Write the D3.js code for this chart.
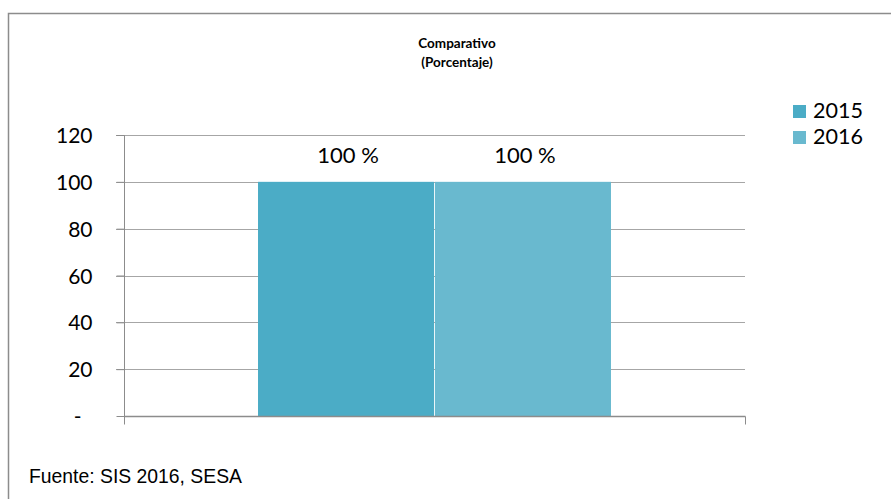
<!DOCTYPE html>
<html><head><meta charset="utf-8">
<script src="https://cdn.jsdelivr.net/npm/d3@7"></script>
<style>body{margin:0;background:#fff}svg{display:block}</style>
</head><body>
<svg id="c" width="891" height="499"></svg>
<script>
const categories = ["Comparativo"];
const series = ["2015", "2016"];
const values2015 = [100];
const values2016 = [100];
const yTicks = [0, 20, 40, 60, 80, 100, 120];
const labelText = ["100 %", "100 %"];
const colors = ["#4bacc6", "#69b9cf"];

const FONT = "Lato, 'Open Sans', sans-serif";
const svg = d3.select("#c");
// outer border
svg.append("rect").attr("x", 8.5).attr("y", 13.5).attr("width", 900).attr("height", 600)
  .attr("fill", "none").attr("stroke", "#8c8c8c").attr("stroke-width", 1.5);

const L = 124, R = 745, T = 135, B = 416;
const x = d3.scaleBand().domain(categories).range([L, R]);
const x1 = d3.scaleBand().domain(series).range([0, x.bandwidth()]).paddingOuter(0.7575).paddingInner(0.005);
const y = d3.scaleLinear().domain([0, 120]).range([B, T]);

// gridlines
svg.append("g").selectAll("line").data(yTicks.filter(d => d > 0)).join("line")
  .attr("x1", L - 8).attr("x2", R).attr("y1", d => Math.round(y(d)) + 0.5).attr("y2", d => Math.round(y(d)) + 0.5)
  .attr("stroke", "#a6a6a6").attr("stroke-width", 1);

// y axis
const ya = svg.append("g").attr("transform", `translate(${L + 0.5},0)`)
  .call(d3.axisLeft(y).tickValues(yTicks).tickSize(8).tickFormat(d => d === 0 ? "-" : d));
ya.select(".domain").attr("stroke", "#8c8c8c").attr("d", `M-8,${T + 0.5}H0V${B + 0.5}`);
ya.selectAll(".tick line").attr("stroke", "#8c8c8c");
ya.selectAll(".tick text").attr("font-family", FONT).attr("font-size", 21)
  .attr("fill", "#000").attr("x", d => d === 0 ? -43 : -32).attr("dy", "0.36em");

// bars
const data = series.map((s, i) => ({ s, v: (i === 0 ? values2015 : values2016)[0], c: categories[0], i }));
svg.append("g").selectAll("rect").data(data).join("rect")
  .attr("x", d => x(d.c) + x1(d.s)).attr("width", x1.bandwidth())
  .attr("y", d => y(d.v)).attr("height", d => B - y(d.v))
  .attr("fill", (d, i) => colors[i]);

// x axis
const xa = svg.append("g").attr("transform", `translate(0,${B + 0.5})`);
xa.append("line").attr("x1", L).attr("x2", R + 0.5).attr("stroke", "#8c8c8c").attr("stroke-width", 1.5);
xa.selectAll(".t").data([L + 0.5, R + 0.5]).join("line").attr("class", "t")
  .attr("x1", d => d).attr("x2", d => d).attr("y1", 0).attr("y2", 8).attr("stroke", "#8c8c8c");

// data labels
svg.append("g").selectAll("text").data(data).join("text")
  .attr("x", d => x(d.c) + x1(d.s) + x1.bandwidth() / 2 + 2).attr("y", d => y(d.v) - 19)
  .attr("text-anchor", "middle").attr("font-family", FONT).attr("font-size", 22)
  .text((d, i) => labelText[i]);

// title
const title = svg.append("text").attr("text-anchor", "middle").attr("font-family", FONT)
  .attr("font-weight", "bold").attr("font-size", 13.5);
title.append("tspan").attr("x", 457).attr("y", 48).text("Comparativo");
title.append("tspan").attr("x", 457).attr("y", 67).text("(Porcentaje)");

// legend
const lg = svg.append("g").selectAll("g").data(series).join("g")
  .attr("transform", (d, i) => `translate(793,${104 + i * 26})`);
lg.append("rect").attr("width", 13).attr("height", 13).attr("y", 1).attr("fill", (d, i) => colors[i]);
lg.append("text").attr("x", 20).attr("y", 14).attr("font-family", FONT)
  .attr("font-size", 21.5).attr("textLength", 50).attr("lengthAdjust", "spacingAndGlyphs").text(d => d);

// source
svg.append("text").attr("x", 29).attr("y", 483).attr("font-family", "'Liberation Sans', Arial, sans-serif")
  .attr("font-size", 21).attr("textLength", 213).attr("lengthAdjust", "spacingAndGlyphs")
  .text("Fuente: SIS 2016, SESA");
</script>
</body></html>
